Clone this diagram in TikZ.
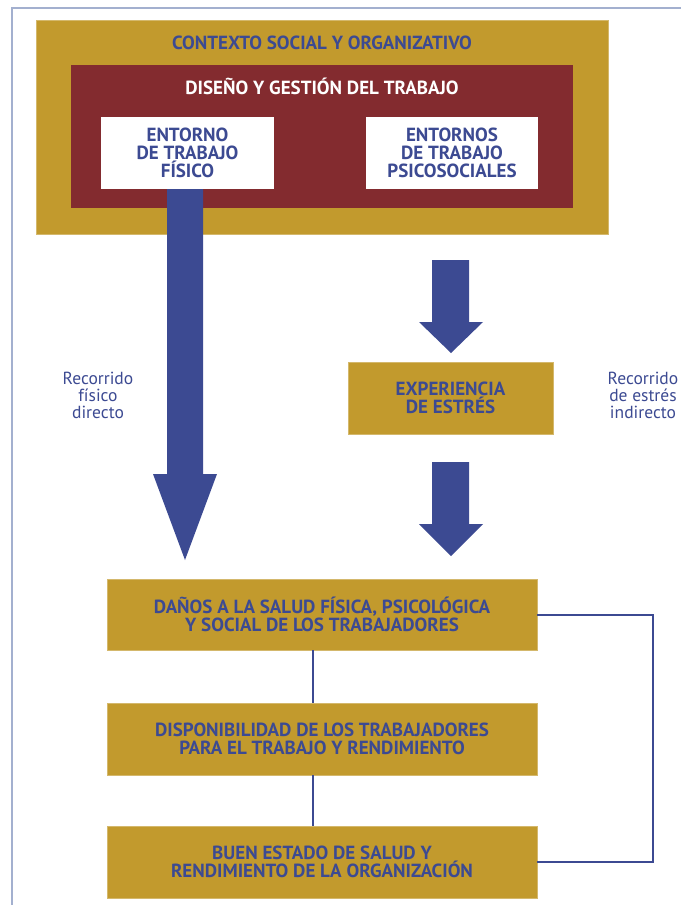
\documentclass[tikz,border=0pt]{standalone}
\usepackage{fontspec}
\setmainfont{PT Sans}
\usepackage{xcolor}
\definecolor{oro}{HTML}{C29A2D}
\definecolor{granate}{HTML}{832B2F}
\definecolor{azul}{HTML}{3C4A92}
\definecolor{marco}{HTML}{A3B0CF}

\tikzset{
  caja/.style={rectangle, fill=oro, draw=oro!70!white, line width=0.6pt, inner sep=0pt},
  cajablanca/.style={rectangle, fill=white, inner sep=0pt},
  texto/.style={text=azul, font=\fontsize{19}{18}\selectfont\bfseries, align=center, inner sep=0.75pt},
  nota/.style={text=azul, font=\fontsize{17.5}{17}\selectfont, align=center, inner sep=0.75pt},
  flecha/.style={fill=azul},
  enlace/.style={draw=azul, line width=2pt}
}

\begin{document}
\begin{tikzpicture}[x=1pt,y=1pt,yscale=-1,xscale=1]
    \useasboundingbox (0,0) rectangle (681,905);

    %Shape: Frame
    \draw [marco, line width=2.5pt] (12,905) -- (12,8) -- (681,8);

    %Shape: Rectangle [contexto]
    \node [caja, minimum width=572, minimum height=214] (contexto) at (322,127) {};
    %Shape: Rectangle [diseno]
    \node [rectangle, fill=granate, inner sep=0pt, minimum width=502, minimum height=143] (diseno) at (322,136.5) {};
    %Shape: Rectangle [fisico]
    \node [cajablanca, minimum width=173, minimum height=72] (fisico) at (187.5,153) {};
    %Shape: Rectangle [psico]
    \node [cajablanca, minimum width=172, minimum height=72] (psico) at (452,153) {};

    %Shape: Block arrow (recorrido fisico)
    \fill [flecha] (167,189) -- (203,189) -- (203,474) -- (217,474) -- (185,560) -- (153,474) -- (167,474) -- cycle;
    %Shape: Block arrow (psico -> estres)
    \fill [flecha] (432,260) -- (469,260) -- (469,322) -- (483,322) -- (451,353) -- (419,322) -- (432,322) -- cycle;
    %Shape: Block arrow (estres -> danos)
    \fill [flecha] (432,462) -- (469,462) -- (469,524) -- (483,524) -- (451,556) -- (419,524) -- (432,524) -- cycle;

    %Shape: Rectangle [estres]
    \node [caja, minimum width=205, minimum height=72] (estres) at (450.5,398) {};
    %Shape: Rectangle [danos]
    \node [caja, minimum width=430, minimum height=71] (danos) at (322,614.5) {};
    %Shape: Rectangle [dispon]
    \node [caja, minimum width=430, minimum height=72] (dispon) at (322,739) {};
    %Shape: Rectangle [buen]
    \node [caja, minimum width=430, minimum height=72] (buen) at (322,862) {};

    %Straight Lines
    \draw [enlace] ([xshift=-9pt]danos.south) -- ([xshift=-9pt]dispon.north);
    \draw [enlace] ([xshift=-9pt]dispon.south) -- ([xshift=-9pt]buen.north);
    \draw [enlace] (danos.east) -- ++(116,0) |- (buen.east);

    % Text Node
    \node [texto] (tcontexto) at (322,43) {CONTEXTO SOCIAL Y ORGANIZATIVO};
    % Text Node
    \node [texto, text=white] (tdiseno) at (322,86) {DISEÑO Y GESTIÓN DEL TRABAJO};
    % Text Node
    \node [texto] (tfisico) at (fisico) {ENTORNO\\DE TRABAJO\\FÍSICO};
    % Text Node
    \node [texto] (tpsico) at (psico) {ENTORNOS\\DE TRABAJO\\PSICOSOCIALES};
    % Text Node
    \node [texto] (testres) at (estres) {EXPERIENCIA\\DE ESTRÉS};
    % Text Node
    \node [texto] (tdanos) at (danos) {DAÑOS A LA SALUD FÍSICA, PSICOLÓGICA\\Y SOCIAL DE LOS TRABAJADORES};
    % Text Node
    \node [texto] (tdispon) at (dispon) {DISPONIBILIDAD DE LOS TRABAJADORES\\PARA EL TRABAJO Y RENDIMIENTO};
    % Text Node
    \node [texto] (tbuen) at (buen) {BUEN ESTADO DE SALUD Y\\RENDIMIENTO DE LA ORGANIZACIÓN};
    % Text Node
    \node [nota] (directo) at (98,395) {Recorrido\\físico\\directo};
    % Text Node
    \node [nota] (indirecto) at (643,395) {Recorrido\\de estrés\\indirecto};

\end{tikzpicture}
\end{document}
